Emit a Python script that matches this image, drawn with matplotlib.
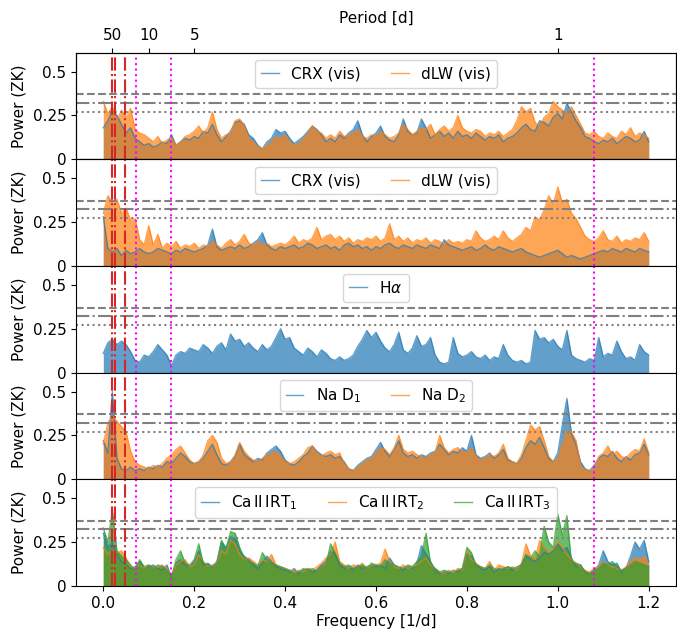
"""Stacked ZK periodograms of activity indicators with FAP levels and marked periods."""

import matplotlib
matplotlib.use("Agg")
import matplotlib.pyplot as plt
import numpy as np

plt.rcParams["font.size"] = 11
plt.rcParams["legend.handlelength"] = 1.15

# frequency grid [1/d], one value per 0.01 1/d
freq = np.round(np.arange(0, 121) * 0.01, 2)

crx_vis_a = [
    0.18, 0.22, 0.28, 0.25, 0.20, 0.15, 0.18, 0.12, 0.10, 0.08,
    0.09, 0.07, 0.08, 0.10, 0.09, 0.14, 0.08, 0.10, 0.12, 0.11,
    0.13, 0.12, 0.16, 0.15, 0.20, 0.14, 0.10, 0.13, 0.16, 0.21,
    0.22, 0.20, 0.14, 0.12, 0.08, 0.06, 0.10, 0.12, 0.17, 0.15,
    0.16, 0.12, 0.09, 0.11, 0.13, 0.16, 0.19, 0.17, 0.14, 0.10,
    0.12, 0.10, 0.14, 0.12, 0.15, 0.17, 0.22, 0.14, 0.10, 0.13,
    0.15, 0.19, 0.13, 0.11, 0.10, 0.14, 0.23, 0.16, 0.14, 0.15,
    0.23, 0.18, 0.12, 0.14, 0.16, 0.13, 0.15, 0.12, 0.16, 0.13,
    0.14, 0.12, 0.15, 0.13, 0.11, 0.13, 0.12, 0.14, 0.10, 0.12,
    0.13, 0.15, 0.18, 0.20, 0.17, 0.16, 0.22, 0.21, 0.19, 0.24,
    0.26, 0.23, 0.32, 0.27, 0.22, 0.18, 0.13, 0.12, 0.10, 0.09,
    0.11, 0.10, 0.12, 0.09, 0.11, 0.13, 0.12, 0.10, 0.11, 0.16,
    0.10,
]
dlw_vis_a = [
    0.33, 0.26, 0.30, 0.22, 0.28, 0.24, 0.29, 0.17, 0.15, 0.14,
    0.12, 0.10, 0.13, 0.09, 0.11, 0.12, 0.08, 0.10, 0.13, 0.14,
    0.16, 0.19, 0.15, 0.18, 0.27, 0.17, 0.12, 0.14, 0.15, 0.22,
    0.23, 0.19, 0.12, 0.10, 0.07, 0.06, 0.08, 0.10, 0.13, 0.12,
    0.14, 0.10, 0.08, 0.09, 0.12, 0.15, 0.19, 0.16, 0.15, 0.12,
    0.14, 0.12, 0.16, 0.13, 0.14, 0.15, 0.17, 0.13, 0.12, 0.14,
    0.13, 0.16, 0.14, 0.12, 0.13, 0.15, 0.20, 0.17, 0.14, 0.16,
    0.18, 0.17, 0.20, 0.14, 0.17, 0.19, 0.16, 0.18, 0.25, 0.18,
    0.16, 0.15, 0.17, 0.16, 0.13, 0.15, 0.14, 0.16, 0.13, 0.15,
    0.17, 0.22, 0.30, 0.27, 0.29, 0.21, 0.19, 0.24, 0.26, 0.33,
    0.30, 0.28, 0.26, 0.30, 0.25, 0.20, 0.15, 0.14, 0.16, 0.13,
    0.12, 0.15, 0.13, 0.12, 0.16, 0.14, 0.18, 0.13, 0.15, 0.14,
    0.12,
]
crx_vis_b = [
    0.28, 0.10, 0.08, 0.10, 0.06, 0.09, 0.07, 0.08, 0.10, 0.08,
    0.07, 0.08, 0.10, 0.09, 0.08, 0.07, 0.09, 0.08, 0.10, 0.09,
    0.08, 0.09, 0.10, 0.12, 0.21, 0.11, 0.09, 0.10, 0.11, 0.10,
    0.12, 0.10, 0.11, 0.13, 0.15, 0.19, 0.12, 0.10, 0.09, 0.11,
    0.10, 0.11, 0.12, 0.10, 0.11, 0.13, 0.12, 0.10, 0.11, 0.12,
    0.10, 0.11, 0.09, 0.12, 0.13, 0.11, 0.12, 0.10, 0.11, 0.09,
    0.11, 0.10, 0.12, 0.13, 0.11, 0.10, 0.12, 0.11, 0.10, 0.12,
    0.11, 0.10, 0.12, 0.11, 0.10, 0.15, 0.12, 0.11, 0.10, 0.09,
    0.10, 0.11, 0.09, 0.10, 0.12, 0.10, 0.09, 0.11, 0.10, 0.09,
    0.08, 0.09, 0.10, 0.08, 0.07, 0.06, 0.05, 0.06, 0.07, 0.08,
    0.09, 0.07, 0.05, 0.06, 0.05, 0.04, 0.05, 0.06, 0.07, 0.08,
    0.09, 0.08, 0.10, 0.09, 0.08, 0.10, 0.09, 0.08, 0.10, 0.09,
    0.08,
]
dlw_vis_b = [
    0.30, 0.40, 0.36, 0.38, 0.30, 0.33, 0.26, 0.27, 0.15, 0.12,
    0.23, 0.12, 0.18, 0.10, 0.13, 0.11, 0.14, 0.10, 0.12, 0.11,
    0.13, 0.10, 0.12, 0.11, 0.14, 0.12, 0.10, 0.13, 0.15, 0.12,
    0.14, 0.18, 0.13, 0.12, 0.14, 0.12, 0.13, 0.11, 0.12, 0.13,
    0.12, 0.14, 0.17, 0.13, 0.15, 0.14, 0.16, 0.22, 0.15, 0.17,
    0.18, 0.15, 0.17, 0.14, 0.16, 0.13, 0.15, 0.14, 0.16, 0.15,
    0.17, 0.14, 0.16, 0.24, 0.15, 0.17, 0.14, 0.16, 0.13, 0.15,
    0.14, 0.16, 0.13, 0.15, 0.14, 0.12, 0.15, 0.13, 0.14, 0.13,
    0.15, 0.14, 0.20, 0.16, 0.14, 0.15, 0.17, 0.15, 0.20, 0.16,
    0.14, 0.16, 0.18, 0.22, 0.20, 0.28, 0.26, 0.32, 0.40, 0.35,
    0.45, 0.36, 0.38, 0.30, 0.27, 0.22, 0.17, 0.15, 0.14, 0.16,
    0.20, 0.15, 0.14, 0.17, 0.13, 0.15, 0.14, 0.16, 0.15, 0.19,
    0.14,
]
halpha = [
    0.11, 0.17, 0.19, 0.16, 0.18, 0.16, 0.12, 0.07, 0.06, 0.10,
    0.09, 0.12, 0.16, 0.13, 0.10, 0.04, 0.10, 0.12, 0.11, 0.14,
    0.13, 0.12, 0.16, 0.14, 0.11, 0.15, 0.17, 0.13, 0.22, 0.18,
    0.19, 0.15, 0.17, 0.14, 0.12, 0.16, 0.13, 0.15, 0.20, 0.25,
    0.19, 0.20, 0.14, 0.12, 0.10, 0.14, 0.12, 0.09, 0.13, 0.11,
    0.08, 0.07, 0.09, 0.07, 0.08, 0.10, 0.15, 0.19, 0.24, 0.20,
    0.23, 0.18, 0.14, 0.12, 0.16, 0.23, 0.13, 0.11, 0.14, 0.21,
    0.15, 0.16, 0.20, 0.10, 0.06, 0.05, 0.06, 0.20, 0.11, 0.09,
    0.10, 0.12, 0.09, 0.08, 0.10, 0.07, 0.09, 0.08, 0.16, 0.10,
    0.07, 0.06, 0.07, 0.05, 0.06, 0.24, 0.19, 0.20, 0.17, 0.19,
    0.15, 0.13, 0.24, 0.10, 0.08, 0.07, 0.06, 0.08, 0.07, 0.20,
    0.09, 0.11, 0.10, 0.18, 0.12, 0.08, 0.09, 0.07, 0.16, 0.12,
    0.10,
]
na_d1 = [
    0.22, 0.15, 0.50, 0.12, 0.06, 0.05, 0.07, 0.05, 0.06, 0.05,
    0.07, 0.06, 0.08, 0.07, 0.10, 0.09, 0.12, 0.15, 0.13, 0.10,
    0.09, 0.10, 0.12, 0.16, 0.20, 0.14, 0.09, 0.08, 0.10, 0.13,
    0.20, 0.14, 0.12, 0.10, 0.12, 0.11, 0.15, 0.17, 0.19, 0.16,
    0.11, 0.09, 0.08, 0.10, 0.13, 0.15, 0.19, 0.16, 0.14, 0.13,
    0.14, 0.12, 0.13, 0.10, 0.06, 0.05, 0.08, 0.10, 0.12, 0.13,
    0.17, 0.21, 0.16, 0.13, 0.17, 0.22, 0.15, 0.13, 0.14, 0.12,
    0.14, 0.13, 0.15, 0.16, 0.20, 0.17, 0.14, 0.16, 0.15, 0.18,
    0.16, 0.25, 0.14, 0.12, 0.13, 0.15, 0.12, 0.14, 0.17, 0.11,
    0.10, 0.09, 0.12, 0.18, 0.22, 0.20, 0.24, 0.18, 0.12, 0.10,
    0.15, 0.31, 0.46, 0.26, 0.20, 0.10, 0.06, 0.05, 0.08, 0.12,
    0.14, 0.13, 0.16, 0.12, 0.10, 0.13, 0.11, 0.14, 0.15, 0.20,
    0.14,
]
na_d2 = [
    0.20, 0.32, 0.36, 0.33, 0.30, 0.27, 0.16, 0.10, 0.08, 0.07,
    0.06, 0.08, 0.07, 0.09, 0.12, 0.14, 0.17, 0.19, 0.15, 0.11,
    0.09, 0.10, 0.14, 0.22, 0.25, 0.21, 0.12, 0.09, 0.10, 0.14,
    0.21, 0.16, 0.13, 0.11, 0.10, 0.12, 0.14, 0.15, 0.16, 0.13,
    0.10, 0.09, 0.10, 0.12, 0.14, 0.18, 0.19, 0.15, 0.13, 0.15,
    0.16, 0.14, 0.15, 0.09, 0.06, 0.05, 0.07, 0.09, 0.11, 0.12,
    0.15, 0.18, 0.17, 0.14, 0.18, 0.25, 0.17, 0.15, 0.16, 0.14,
    0.13, 0.12, 0.14, 0.15, 0.25, 0.18, 0.15, 0.17, 0.18, 0.16,
    0.15, 0.18, 0.13, 0.11, 0.12, 0.14, 0.13, 0.15, 0.20, 0.12,
    0.10, 0.09, 0.14, 0.22, 0.31, 0.28, 0.30, 0.22, 0.13, 0.10,
    0.12, 0.20, 0.28, 0.27, 0.22, 0.08, 0.05, 0.05, 0.06, 0.13,
    0.15, 0.19, 0.14, 0.16, 0.13, 0.12, 0.15, 0.17, 0.16, 0.23,
    0.15,
]
ca_irt1 = [
    0.30, 0.22, 0.25, 0.18, 0.14, 0.12, 0.10, 0.11, 0.14, 0.10,
    0.11, 0.12, 0.10, 0.09, 0.12, 0.05, 0.13, 0.15, 0.12, 0.11,
    0.14, 0.20, 0.12, 0.13, 0.11, 0.14, 0.25, 0.22, 0.28, 0.27,
    0.20, 0.17, 0.15, 0.12, 0.10, 0.13, 0.17, 0.14, 0.11, 0.10,
    0.09, 0.08, 0.10, 0.07, 0.09, 0.10, 0.08, 0.09, 0.12, 0.14,
    0.20, 0.18, 0.12, 0.10, 0.11, 0.09, 0.12, 0.10, 0.11, 0.12,
    0.11, 0.12, 0.10, 0.16, 0.12, 0.10, 0.09, 0.11, 0.10, 0.13,
    0.23, 0.18, 0.14, 0.09, 0.07, 0.08, 0.07, 0.09, 0.08, 0.10,
    0.18, 0.17, 0.12, 0.10, 0.09, 0.11, 0.08, 0.10, 0.09, 0.11,
    0.09, 0.10, 0.12, 0.17, 0.15, 0.14, 0.16, 0.19, 0.18, 0.20,
    0.24, 0.20, 0.22, 0.16, 0.11, 0.12, 0.08, 0.07, 0.09, 0.12,
    0.20, 0.14, 0.12, 0.13, 0.08, 0.10, 0.17, 0.25, 0.21, 0.26,
    0.14,
]
ca_irt2 = [
    0.22, 0.18, 0.20, 0.19, 0.20, 0.16, 0.11, 0.10, 0.12, 0.10,
    0.12, 0.10, 0.11, 0.12, 0.10, 0.06, 0.12, 0.14, 0.15, 0.11,
    0.12, 0.18, 0.14, 0.11, 0.12, 0.13, 0.20, 0.18, 0.26, 0.24,
    0.18, 0.15, 0.16, 0.14, 0.12, 0.15, 0.14, 0.18, 0.12, 0.11,
    0.10, 0.09, 0.08, 0.09, 0.08, 0.10, 0.09, 0.11, 0.13, 0.16,
    0.18, 0.25, 0.14, 0.12, 0.10, 0.12, 0.11, 0.13, 0.10, 0.12,
    0.12, 0.13, 0.21, 0.14, 0.11, 0.10, 0.12, 0.10, 0.11, 0.12,
    0.14, 0.16, 0.12, 0.10, 0.08, 0.07, 0.09, 0.08, 0.10, 0.09,
    0.20, 0.15, 0.13, 0.11, 0.10, 0.14, 0.09, 0.12, 0.11, 0.10,
    0.11, 0.09, 0.13, 0.24, 0.17, 0.15, 0.26, 0.22, 0.19, 0.21,
    0.25, 0.22, 0.18, 0.15, 0.13, 0.11, 0.09, 0.08, 0.10, 0.11,
    0.14, 0.12, 0.11, 0.10, 0.09, 0.11, 0.14, 0.16, 0.15, 0.17,
    0.12,
]
ca_irt3 = [
    0.33, 0.25, 0.43, 0.20, 0.17, 0.15, 0.12, 0.09, 0.15, 0.11,
    0.12, 0.10, 0.12, 0.11, 0.09, 0.05, 0.15, 0.20, 0.13, 0.12,
    0.15, 0.24, 0.13, 0.12, 0.10, 0.13, 0.26, 0.21, 0.31, 0.30,
    0.22, 0.16, 0.14, 0.13, 0.11, 0.19, 0.15, 0.13, 0.12, 0.11,
    0.10, 0.09, 0.07, 0.08, 0.10, 0.09, 0.10, 0.08, 0.11, 0.12,
    0.24, 0.19, 0.13, 0.11, 0.12, 0.10, 0.11, 0.12, 0.10, 0.13,
    0.12, 0.11, 0.15, 0.13, 0.12, 0.11, 0.10, 0.12, 0.11, 0.14,
    0.17, 0.30, 0.13, 0.10, 0.08, 0.09, 0.08, 0.07, 0.09, 0.10,
    0.22, 0.19, 0.12, 0.11, 0.10, 0.12, 0.10, 0.09, 0.10, 0.11,
    0.10, 0.11, 0.12, 0.18, 0.16, 0.20, 0.17, 0.34, 0.25, 0.22,
    0.41, 0.29, 0.40, 0.14, 0.13, 0.12, 0.08, 0.07, 0.09, 0.10,
    0.13, 0.12, 0.14, 0.11, 0.09, 0.10, 0.12, 0.14, 0.13, 0.12,
    0.11,
]

# false-alarm-probability levels (dashed, dash-dot, dotted)
fap_levels = [0.370, 0.322, 0.271]
fap_styles = ["--", "-.", ":"]
# frequencies of marked periods
red_freqs = [0.0191, 0.0263, 0.048]
magenta_freqs = [0.0724, 0.149, 1.079]
period_ticks = [50, 10, 5, 1]

panels = [
    [("CRX (vis)", crx_vis_a, "tab:blue"), ("dLW (vis)", dlw_vis_a, "tab:orange")],
    [("CRX (vis)", crx_vis_b, "tab:blue"), ("dLW (vis)", dlw_vis_b, "tab:orange")],
    [(r"H$\alpha$", halpha, "tab:blue")],
    [(r"Na D$_1$", na_d1, "tab:blue"), (r"Na D$_2$", na_d2, "tab:orange")],
    [(r"Ca$\,$II$\,$IRT$_1$", ca_irt1, "tab:blue"),
     (r"Ca$\,$II$\,$IRT$_2$", ca_irt2, "tab:orange"),
     (r"Ca$\,$II$\,$IRT$_3$", ca_irt3, "tab:green")],
]


def main():
    fig, axes = plt.subplots(5, 1, figsize=(6.77, 6.30), dpi=100, sharex=True)
    fig.subplots_adjust(left=0.1123, right=0.9985, top=0.9163, bottom=0.0698, hspace=0)

    for ax, series in zip(axes, panels):
        for label, power, color in series:
            ax.fill_between(freq, power, 0, color=color, alpha=0.7, lw=0)
            ax.plot(freq, power, color=color, alpha=0.7, lw=1.0, label=label)
        for lvl, ls in zip(fap_levels, fap_styles):
            ax.axhline(lvl, color="grey", ls=ls, lw=1.5)
        for f in red_freqs:
            ax.axvline(f, color="tab:red", ls="-.", lw=1.5)
        for f in magenta_freqs:
            ax.axvline(f, color="magenta", ls=":", lw=1.5)
        ax.set_ylim(0, 0.607)
        ax.set_yticks([0, 0.25, 0.5])
        ax.set_yticklabels(["0", "0.25", "0.5"])
        ax.set_ylabel("Power (ZK)")
        ax.legend(loc="upper center", ncol=len(series))

    axes[-1].set_xlim(-0.06, 1.26)
    axes[-1].set_xlabel("Frequency [1/d]", labelpad=2)

    top = axes[0].twiny()
    top.set_xlim(axes[0].get_xlim())
    top.set_xticks([1.0 / p for p in period_ticks])
    top.set_xticklabels([str(p) for p in period_ticks])
    top.set_xlabel("Period [d]")

    fig.savefig("out.png", dpi=100)
    plt.close(fig)


if __name__ == "__main__":
    main()
